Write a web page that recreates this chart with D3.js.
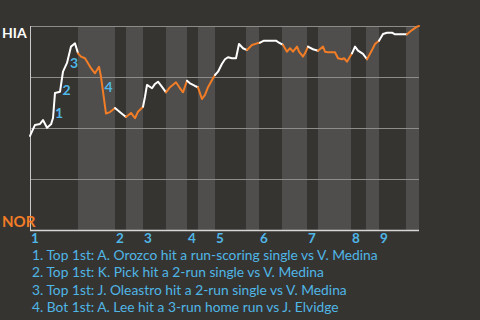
<!DOCTYPE html>
<html>
<head>
<meta charset="utf-8">
<script src="https://cdn.jsdelivr.net/npm/d3@7"></script>
<style>
  body { margin: 0; background: #363431; }
  svg { display: block; font-family: Lato, "Open Sans", sans-serif; }
</style>
</head>
<body>
<svg id="chart" width="480" height="320"></svg>
<script>
// play index where each half inning starts (top 1, bot 1, top 2, ...)
const halfStarts = [0, 48, 85, 96, 113, 136, 157, 168, 185, 216, 229, 252, 277, 288, 321, 336, 349, 376];
const lastPlay = 389;
const innings = [1, 2, 3, 4, 5, 6, 7, 8, 9];

// HIA win probability (%) after each play
const plays = [0, 5, 10, 13, 17, 21, 23, 25, 30, 33, 37, 41, 45, 48, 51, 55, 58, 61, 65, 69, 71, 76, 80, 85, 91, 96,
  101, 105, 108, 113, 115, 117, 122, 125, 128, 132, 136, 140, 146, 149, 153, 157, 160, 165, 168, 170, 172, 175, 178,
  182, 185, 188, 192, 195, 198, 202, 206, 209, 213, 217, 222, 227, 230, 234, 240, 246, 249, 253, 257, 260, 263, 267,
  269, 273, 275, 278, 283, 288, 293, 295, 298, 305, 308, 312, 314, 317, 318, 322, 325, 328, 333, 337, 342, 345, 349,
  353, 357, 362, 365, 377, 382, 387, 389];
const winProb = [46.1, 51.5, 52.0, 53.9, 50.1, 51.8, 54.9, 67.2, 67.8, 77.6, 81.9, 89.9, 91.5, 86.6, 85.0, 84.2, 81.7,
  79.3, 76.8, 80.0, 75.1, 57.1, 57.8, 59.8, 57.4, 55.4, 57.4, 54.8, 58.0, 60.4, 65.3, 71.1, 69.5, 71.6, 72.7, 70.2,
  67.5, 70.0, 72.4, 70.2, 67.5, 73.2, 71.9, 70.6, 70.0, 67.0, 64.2, 66.2, 70.0, 73.5, 76.0, 77.6, 81.5, 83.7, 84.7,
  84.2, 84.2, 91.2, 89.1, 88.2, 90.7, 91.5, 91.8, 92.8, 92.8, 92.8, 91.8, 90.7, 87.4, 89.1, 87.4, 89.9, 87.4, 85.0,
  86.6, 89.9, 88.6, 87.9, 89.9, 87.4, 87.1, 87.1, 84.2, 83.7, 84.2, 82.5, 83.3, 86.6, 89.9, 87.9, 86.3, 83.7, 88.2,
  91.2, 92.8, 96.1, 96.7, 96.7, 95.9, 95.9, 98.0, 99.7, 100];

// big plays: label and the play index right after it
const keyLabels = ["1", "2", "3", "4"];
const keyPlays = [25, 33, 41, 76];
const notes = [
  "1. Top 1st: A. Orozco hit a run-scoring single vs V. Medina",
  "2. Top 1st: K. Pick hit a 2-run single vs V. Medina",
  "3. Top 1st: J. Oleastro hit a 2-run single vs V. Medina",
  "4. Bot 1st: A. Lee hit a 3-run home run vs J. Elvidge",
];
const teams = ["HIA", "NOR"];

const blue = "#4fb6e6";
const orange = "#f27d26";
const svg = d3.select("#chart");
const m = { left: 30, right: 61, top: 26, bottom: 90 };
const W = 480, H = 320;

const x = d3.scaleLinear([0, lastPlay], [m.left, W - m.right]);
const y = d3.scaleLinear([0, 100], [H - m.bottom, m.top]);

const data = plays.map((p, i) => ({ play: p, wp: winProb[i] }));
const half = (p) => d3.bisectRight(halfStarts, p) - 1;

// bottom-half shading
const bottoms = halfStarts.map((s, i) => ({ s, e: halfStarts[i + 1] ?? lastPlay, i })).filter((d) => d.i % 2 == 1);
svg.append("g").selectAll("rect").data(bottoms).join("rect")
  .attr("x", (d) => x(d.s))
  .attr("y", y(100))
  .attr("width", (d) => x(d.e) - x(d.s))
  .attr("height", y(0) - y(100))
  .attr("fill", "#4f4e4c");

// gridlines
svg.append("g").selectAll("line").data([25, 50, 75, 100]).join("line")
  .attr("x1", x(0)).attr("x2", x(lastPlay))
  .attr("y1", (d) => y(d) + 0.5).attr("y2", (d) => y(d) + 0.5)
  .attr("stroke", "#8d8c8a").attr("stroke-width", 1);

// axes
svg.append("line").attr("x1", x(0) + 0.5).attr("x2", x(0) + 0.5).attr("y1", y(100)).attr("y2", y(0))
  .attr("stroke", "#c9c9c9").attr("stroke-width", 1);
svg.append("line").attr("x1", x(0)).attr("x2", x(lastPlay)).attr("y1", y(0) + 0.5).attr("y2", y(0) + 0.5)
  .attr("stroke", "#d6d6d6").attr("stroke-width", 1.5);

// team labels
svg.append("text").attr("x", 2).attr("y", y(100) + 12).attr("fill", "#ffffff")
  .attr("font-size", 14).attr("font-weight", "bold").text(teams[0]);
svg.append("text").attr("x", 2).attr("y", y(0) - 3).attr("fill", orange)
  .attr("font-size", 15).attr("font-weight", "bold").text(teams[1]);

// inning labels
svg.append("g").selectAll("text").data(innings).join("text")
  .attr("x", (d) => x(halfStarts[(d - 1) * 2]) + 1)
  .attr("y", y(0) + 13)
  .attr("fill", blue).attr("font-size", 13.5).attr("font-weight", "bold")
  .text((d) => d);

// win probability line, split into runs by batting team
const runs = [];
for (let i = 1; i < data.length; i++) {
  const team = half((data[i - 1].play + data[i].play) / 2) % 2;
  const last = runs[runs.length - 1];
  if (last && last.team == team) last.pts.push(data[i]);
  else runs.push({ team, pts: [data[i - 1], data[i]] });
}
const line = d3.line().x((d) => x(d.play)).y((d) => y(d.wp));
svg.append("g").selectAll("path").data(runs).join("path")
  .attr("d", (d) => line(d.pts))
  .attr("fill", "none")
  .attr("stroke", (d) => (d.team ? orange : "#ffffff"))
  .attr("stroke-width", 2)
  .attr("stroke-linejoin", "round")
  .attr("stroke-linecap", "round");

// key play markers
svg.append("g").selectAll("text").data(keyPlays).join("text")
  .each(function (p, i) {
    const k = plays.indexOf(p);
    const a = data[k - 1], b = data[k];
    const up = b.wp > a.wp;
    d3.select(this)
      .attr("x", (x(a.play) + x(b.play)) / 2 + 1)
      .attr("y", (y(a.wp) + y(b.wp)) / 2 + (up ? 13 : -3))
      .text(keyLabels[i]);
  })
  .attr("fill", blue).attr("font-size", 14).attr("font-weight", "bold");

// footnotes
svg.append("g").selectAll("text").data(notes).join("text")
  .attr("x", 32)
  .attr("y", (d, i) => 259.5 + i * 17.6)
  .attr("fill", blue).attr("font-size", 13.8)
  .text((d) => d);
</script>
</body>
</html>
